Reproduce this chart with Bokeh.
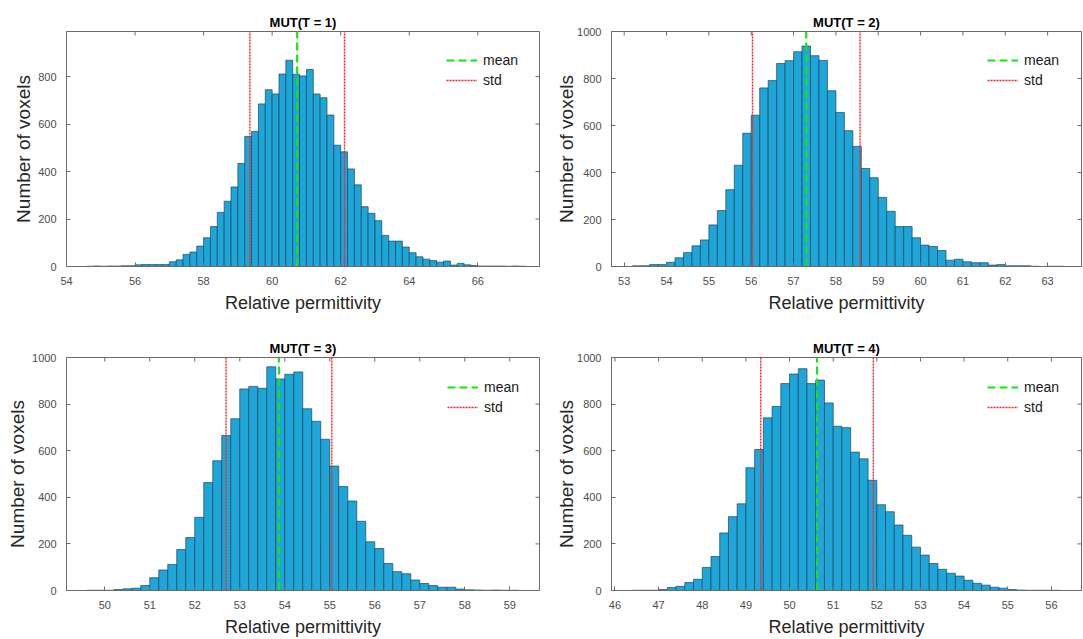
import math
from bokeh.plotting import figure
from bokeh.models import Range1d, FixedTicker, Legend, LegendItem
from bokeh.layouts import column, row
from bokeh.embed import file_html
from bokeh.resources import INLINE

# ---------------- data ----------------
titles = ["MUT(T = 1)", "MUT(T = 2)", "MUT(T = 3)", "MUT(T = 4)"]
x_label = "Relative permittivity"
y_label = "Number of voxels"
bin_width = 0.2

t1_start = 54.6
t1_counts = [1, 2, 1, 2, 2, 3, 3, 7, 8, 8, 8, 8, 20, 28, 51, 61, 86, 121, 168, 228,
             275, 335, 434, 548, 569, 685, 745, 727, 811, 869, 810, 803, 830, 727, 711,
             638, 511, 483, 411, 344, 252, 224, 193, 131, 107, 107, 82, 58, 41, 31, 25,
             18, 23, 6, 13, 7, 4, 2, 2, 2, 2, 1, 2, 1]
t1_mean, t1_std = 60.73, 1.38

t2_start = 53.2
t2_counts = [3, 3, 8, 8, 18, 37, 59, 88, 113, 177, 238, 327, 431, 567, 644, 760, 791,
             864, 876, 914, 938, 897, 877, 748, 655, 578, 511, 417, 378, 294, 235, 170,
             170, 122, 91, 85, 68, 27, 31, 20, 16, 16, 6, 8, 3, 3, 3, 1, 0, 1, 1]
t2_mean, t2_std = 57.30, 1.27

t3_start = 49.6
t3_counts = [1, 1, 1, 4, 7, 10, 21, 55, 88, 112, 176, 227, 314, 463, 557, 665, 737,
             865, 876, 868, 960, 908, 928, 938, 780, 726, 649, 534, 446, 384, 297, 209,
             180, 116, 81, 72, 45, 30, 21, 14, 14, 6, 3, 2, 1, 2, 1, 1]
t3_mean, t3_std = 53.87, 1.175

t4_start = 46.4
t4_counts = [1, 1, 1, 4, 13, 18, 34, 48, 99, 146, 247, 317, 372, 527, 605, 741, 790,
             888, 929, 952, 888, 903, 805, 705, 699, 594, 565, 473, 368, 338, 281, 237,
             186, 152, 116, 91, 74, 62, 44, 31, 23, 14, 10, 4, 2, 1, 1, 1, 1]
t4_mean, t4_std = 50.63, 1.29

t1_xlim, t2_xlim, t3_xlim, t4_xlim = (54.0, 67.8), (52.7, 63.8), (49.15, 59.66), (45.92, 56.69)
t1_ymax, t2_ymax, t3_ymax, t4_ymax = 990, 1000, 1000, 1000
t1_xticks = [54, 56, 58, 60, 62, 64, 66]
t2_xticks = [53, 54, 55, 56, 57, 58, 59, 60, 61, 62, 63]
t3_xticks = [50, 51, 52, 53, 54, 55, 56, 57, 58, 59]
t4_xticks = [46, 47, 48, 49, 50, 51, 52, 53, 54, 55, 56]
y_ticks = [0, 200, 400, 600, 800, 1000]

# ---------------- style ----------------
FONT = "Liberation Sans"
AXC = "#6b6b6b"
BAR = "#1fa6d8"
EDGE = "#22445c"


def style_axis(ax):
    ax.axis_line_color = AXC
    ax.major_tick_line_color = AXC
    ax.major_tick_in = 4
    ax.major_tick_out = 0
    ax.minor_tick_line_color = None
    ax.major_label_text_font = FONT
    ax.major_label_text_color = "#4d4d4d"
    ax.major_label_text_font_size = "11px"


def panel(title, start, counts, mean, std, xlim, ymax, xticks, width, height,
          bl, br, bt, bb, ylab_standoff, leg_x, leg_y):
    p = figure(width=width, height=height, output_backend="svg", toolbar_location=None,
               x_range=Range1d(*xlim), y_range=Range1d(0, ymax),
               min_border_left=bl, min_border_right=br, min_border_top=bt,
               min_border_bottom=bb)
    p.title.text = title
    p.title.align = "center"
    p.title.text_font = FONT
    p.title.text_font_size = "13px"
    p.title.text_font_style = "bold"
    p.title.text_color = "#000000"
    p.title.standoff = 4
    p.xgrid.visible = False
    p.ygrid.visible = False
    p.outline_line_color = AXC
    p.background_fill_color = "white"
    p.border_fill_color = "white"

    lefts = [start + i * bin_width for i in range(len(counts))]
    rights = [l + bin_width for l in lefts]
    p.quad(left=lefts, right=rights, top=counts, bottom=0,
           fill_color=BAR, line_color=EDGE, line_width=0.7)

    rm = p.segment(x0=[mean], y0=[0], x1=[mean], y1=[ymax], line_color="#14e614",
                   line_width=2.2, line_dash="8 4")
    rs = p.segment(x0=[mean - std, mean + std], y0=[0, 0], x1=[mean - std, mean + std],
                   y1=[ymax, ymax], line_color="#ff1f1f", line_width=1.4, line_dash="2 1")

    # inward tick marks on the top and right edges of the box (MATLAB "box on")
    yt = [t for t in y_ticks if t <= ymax]
    p.scatter(x=xticks, y=[ymax] * len(xticks), marker="dash", angle=math.pi / 2,
              size=8, line_color=AXC, line_width=1)
    p.scatter(x=[xlim[1]] * len(yt), y=yt, marker="dash", angle=0,
              size=8, line_color=AXC, line_width=1)

    p.xaxis.ticker = FixedTicker(ticks=xticks)
    p.yaxis.ticker = FixedTicker(ticks=y_ticks)
    style_axis(p.xaxis[0])
    style_axis(p.yaxis[0])
    p.xaxis.major_label_standoff = 10
    p.yaxis.major_label_standoff = 10
    p.xaxis.axis_label = x_label
    p.yaxis.axis_label = y_label
    for ax, size in ((p.xaxis[0], "18px"), (p.yaxis[0], "19px")):
        ax.axis_label_text_font = FONT
        ax.axis_label_text_font_size = size
        ax.axis_label_text_font_style = "normal"
        ax.axis_label_text_color = "#262626"
    p.xaxis.axis_label_standoff = 5
    p.yaxis.axis_label_standoff = ylab_standoff

    legend = Legend(items=[LegendItem(label="mean", renderers=[rm]),
                           LegendItem(label="std", renderers=[rs])],
                    location=(leg_x, leg_y))
    legend.background_fill_alpha = 0
    legend.border_line_color = None
    legend.padding = 0
    legend.margin = 0
    legend.spacing = 0
    legend.glyph_width = 31
    legend.glyph_height = 20
    legend.label_height = 20
    legend.label_standoff = 6
    legend.label_text_font = FONT
    legend.label_text_font_size = "14px"
    legend.label_text_color = "#1a1a1a"
    p.add_layout(legend)
    return p


p1 = panel(titles[0], t1_start, t1_counts, t1_mean, t1_std, t1_xlim, t1_ymax, t1_xticks,
           551, 326, 66, 12, 31, 60, 1, 380, 176)
p2 = panel(titles[1], t2_start, t2_counts, t2_mean, t2_std, t2_xlim, t2_ymax, t2_xticks,
           532, 326, 60, 2, 31, 60, -3, 376, 176)
p3 = panel(titles[2], t3_start, t3_counts, t3_mean, t3_std, t3_xlim, t3_ymax, t3_xticks,
           551, 313, 66, 12, 31, 48, 1, 381, 173)
p4 = panel(titles[3], t4_start, t4_counts, t4_mean, t4_std, t4_xlim, t4_ymax, t4_xticks,
           532, 313, 60, 2, 31, 48, -3, 376, 173)

layout = column(row(p1, p2), row(p3, p4))
open("out.html", "w").write(file_html(layout, INLINE))
